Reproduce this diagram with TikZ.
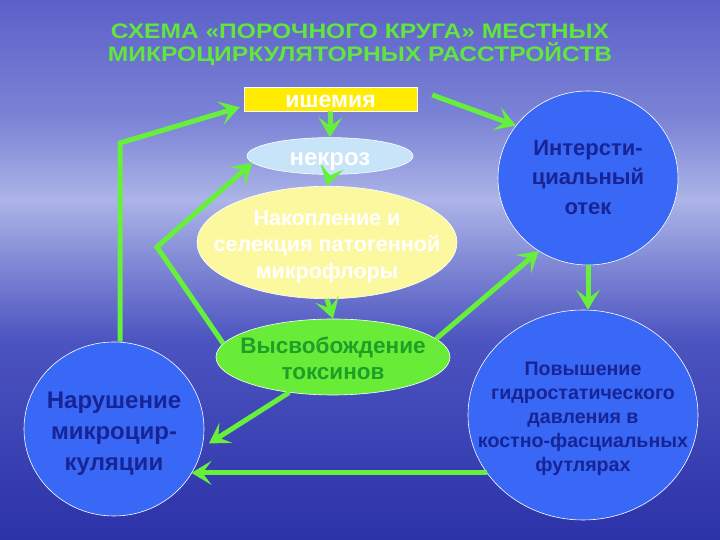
\documentclass[tikz,border=0pt]{standalone}
\usepackage{fontspec}
\usepackage{graphicx}
\setmainfont{Liberation Sans}
\usetikzlibrary{arrows.meta,shapes.geometric}
\definecolor{bgtop}{RGB}{92,96,200}
\definecolor{bgsky}{RGB}{124,132,214}
\definecolor{bgband}{RGB}{172,180,232}
\definecolor{bgmid}{RGB}{76,84,192}
\definecolor{bgbot}{RGB}{44,50,168}
\definecolor{arrowgreen}{RGB}{102,240,60}
\definecolor{toxgreen}{RGB}{104,236,56}
\definecolor{toxtext}{RGB}{30,160,40}
\definecolor{circblue}{RGB}{56,104,245}
\definecolor{navy}{RGB}{24,36,150}
\definecolor{necblue}{RGB}{200,228,248}
\definecolor{accyellow}{RGB}{252,248,160}
\definecolor{ischyellow}{RGB}{255,236,0}
\definecolor{titlegreen}{RGB}{96,230,60}
\newcommand{\ctext}[2][-4pt]{\makebox[0pt]{\raisebox{#1}[\height][\depth]{\begin{tabular}{@{}c@{}}#2\end{tabular}}}}
\newcommand{\wide}[1]{\scalebox{1.17}[1]{#1}}
\tikzset{
  conn/.style={draw=arrowgreen,line width=5pt,line join=miter,
    -{Stealth[length=20pt,width=24pt,inset=9pt]}},
  bigcirc/.style={ellipse,draw=white,line width=0.6pt,fill=circblue,
    text=navy,inner sep=0pt},
  oval/.style={ellipse,draw=white,line width=0.6pt,inner sep=0pt}
}
\begin{document}
\begin{tikzpicture}[x=1pt,y=1pt]
\useasboundingbox (0,0) rectangle (720,540);
% background
\fill[top color=bgtop,bottom color=bgsky] (0,420) rectangle (720,540);
\fill[top color=bgsky,bottom color=bgband] (0,340) rectangle (720,420.5);
\fill[top color=bgband,bottom color=bgmid] (0,200) rectangle (720,340.5);
\fill[top color=bgmid,bottom color=bgbot] (0,0) rectangle (720,200.5);
% title
\node[text=titlegreen,font=\bfseries\fontsize{21}{23.5}\selectfont,inner sep=0pt,align=center] (title) at (360,495)
  {\wide{СХЕМА «ПОРОЧНОГО КРУГА» МЕСТНЫХ}\\\wide{МИКРОЦИРКУЛЯТОРНЫХ РАССТРОЙСТВ}};
% nodes
\node[draw=white,line width=0.6pt,fill=ischyellow,minimum width=173pt,minimum height=24pt,inner sep=0pt,
  text=white,font=\bfseries\fontsize{23}{24}\selectfont] (isch) at (330.5,441) {\ctext{ишемия}};
\node[oval,fill=necblue,minimum width=166pt,minimum height=34pt,text=white,
  font=\bfseries\fontsize{24}{26}\selectfont] (necr) at (330,384) {\ctext{некроз}};
\node[oval,fill=accyellow,minimum width=260pt,minimum height=100pt,text=white,
  font=\bfseries\fontsize{21.5}{26.5}\selectfont] (acc) at (327,297.5)
  {\ctext{Накопление и\\селекция патогенной\\микрофлоры}};
\node[oval,fill=toxgreen,minimum width=234pt,minimum height=76pt,text=toxtext,
  font=\bfseries\fontsize{22.5}{26}\selectfont] (tox) at (333,183) {\ctext{Высвобождение\\токсинов}};
\node[bigcirc,minimum width=180pt,minimum height=174pt,
  font=\bfseries\fontsize{22}{29.5}\selectfont] (inter) at (588,362)
  {\ctext[-1pt]{Интерсти-\\циальный\\отек}};
\node[bigcirc,minimum width=230pt,minimum height=210pt,
  font=\bfseries\fontsize{19.6}{24}\selectfont] (botr) at (583,125)
  {\ctext{Повышение\\гидростатического\\давления в\\костно-фасциальных\\футлярах}};
\node[bigcirc,minimum width=180pt,minimum height=174pt,
  font=\bfseries\fontsize{24}{31}\selectfont] (botl) at (114,111)
  {\ctext{Нарушение\\микроцир-\\куляции}};
\coordinate (c1) at (157,293);
\coordinate (c2) at (120,397);
% connectors
\draw[conn] (isch.south) -- (necr.north);
\draw[conn] (necr.south) -- (acc.north);
\draw[conn] (acc.south) -- (tox.north);
\draw[conn] ([shift={(15,4)}]isch.east) -- (inter.144);
\draw[conn] (inter.south) -- (inter.south |- botr.north);
\draw[conn] (botr.211) -- (botr.211 -| botl.330);
\draw[conn,shorten >=8pt] (tox.219) -- (botl.348);
\draw[conn] (tox.10) -- (inter.236);
\draw[conn] (tox.173) -- (c1) -- (necr.185);
\draw[conn] (c2 |- botl.north) -- (c2) -- ([shift={(-4,4)}]isch.south west);
\end{tikzpicture}
\end{document}
